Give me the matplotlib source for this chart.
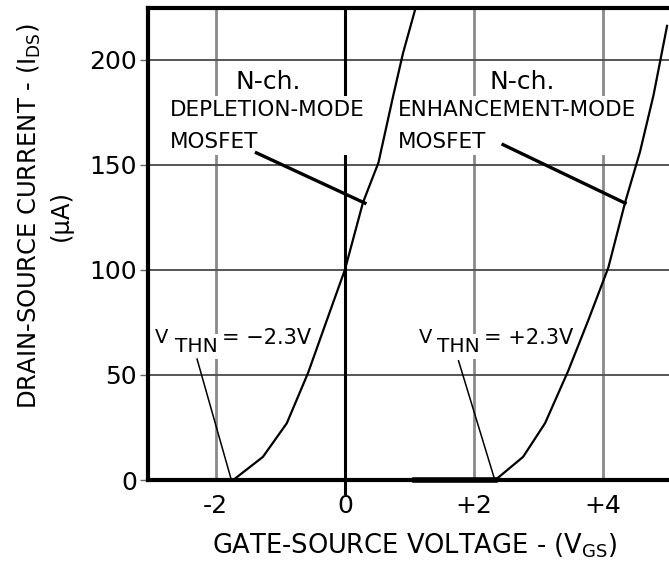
import matplotlib.pyplot as plt

# curves (V_GS in volts, I_DS in uA)
dep_vgs = [-1.73, -1.27, -0.90, -0.57, -0.28, 0.0, 0.28, 0.52, 0.75, 0.90, 1.09]
dep_ids = [0, 11, 27, 51, 76, 100, 132, 151, 183, 203, 224]
enh_vgs = [1.09, 2.33, 2.76, 3.10, 3.46, 3.77, 4.08, 4.34, 4.57, 4.78, 4.99]
enh_ids = [0, 0, 11, 27, 52, 76, 101, 132, 156, 183, 216]

x_ticks = [-2, 0, 2, 4]
x_labels = ["-2", "0", "+2", "+4"]
y_ticks = [0, 50, 100, 150, 200]

fig = plt.figure(figsize=(6.69, 5.69), dpi=100)
ax = fig.add_axes([148 / 669, 89 / 569, 521 / 669, 472 / 569])
ax.set_xlim(-3.05, 5.02)
ax.set_ylim(0, 224.5)

# grid
for x in [-2, 2, 4]:
    ax.axvline(x, color="#8a8a8a", lw=2.0, zorder=1)
for y in [50, 100, 150, 200]:
    ax.axhline(y, color="#555555", lw=1.4, zorder=1)
ax.plot([0, 0], [-6, 224.5], color="black", lw=2.2, zorder=2, clip_on=False)

# curves (on top of the white text boxes)
ax.plot(dep_vgs, dep_ids, color="black", lw=1.6, zorder=7)
ax.plot(enh_vgs, enh_ids, color="black", lw=1.6, zorder=7)
ax.plot(enh_vgs[:2], enh_ids[:2], color="black", lw=4, zorder=7, clip_on=False)

for side in ["left", "bottom", "top"]:
    ax.spines[side].set_linewidth(3)
    ax.spines[side].set_zorder(8)
ax.spines["right"].set_visible(False)

ax.set_xticks(x_ticks)
ax.set_xticklabels(x_labels)
ax.set_yticks(y_ticks)
ax.tick_params(axis="x", length=0, pad=10, labelsize=18)
ax.tick_params(axis="y", length=6, width=1, color="#666666", pad=2, labelsize=18)

wb = dict(facecolor="white", edgecolor="none", boxstyle="square,pad=0.15")
font = "DejaVu Sans"

# depletion-mode label
ax.text(-1.19, 189.5, "N-ch.", ha="center", va="center", fontsize=18, family=font, zorder=6)
ax.text(-2.71, 168.6, "DEPLETION-MODE\nMOSFET", ha="left", va="center", fontsize=15.5,
        family=font, linespacing=1.75, zorder=6, bbox=wb)
ax.plot([-1.37, 0.31], [155.6, 131.7], color="black", lw=2.4, zorder=6)

# enhancement-mode label
ax.text(2.74, 189.5, "N-ch.", ha="center", va="center", fontsize=18, family=font, zorder=6)
ax.text(0.82, 168.6, "ENHANCEMENT-MODE\nMOSFET", ha="left", va="center", fontsize=15.5,
        family=font, linespacing=1.75, zorder=6, bbox=wb)
ax.plot([2.45, 4.34], [159.5, 131.7], color="black", lw=2.4, zorder=6)

# threshold annotations
for vx, tx, ex, txt in [(-2.95, -2.63, -1.90, "= \u22122.3V"), (1.14, 1.43, 2.16, "= +2.3V")]:
    ax.text(vx, 67.6, "V", ha="left", va="center", fontsize=14, family=font, zorder=6, bbox=wb)
    ax.text(tx, 63.3, "THN", ha="left", va="center", fontsize=14.5, family=font, zorder=6, bbox=wb)
    ax.text(ex, 67.6, txt, ha="left", va="center", fontsize=15, family=font, zorder=6, bbox=wb)
ax.plot([-2.29, -1.77], [57.5, 1.2], color="black", lw=1.1, zorder=6)
ax.plot([1.76, 2.31], [56.7, 1.2], color="black", lw=1.1, zorder=6)

# axis titles
fig.text(415 / 669, 1 - 546 / 569, r"GATE-SOURCE VOLTAGE - (V$_{\mathregular{GS}}$)",
         ha="center", va="center", fontsize=18.5, family=font)
fig.text(44 / 669, 1 - 216 / 569, "DRAIN-SOURCE CURRENT - (I$_{\\mathregular{DS}}$)\n(μA)",
         ha="center", va="center", rotation=90, fontsize=17.5, family=font,
         linespacing=1.3, multialignment="center")

fig.savefig("out.png", dpi=100)
